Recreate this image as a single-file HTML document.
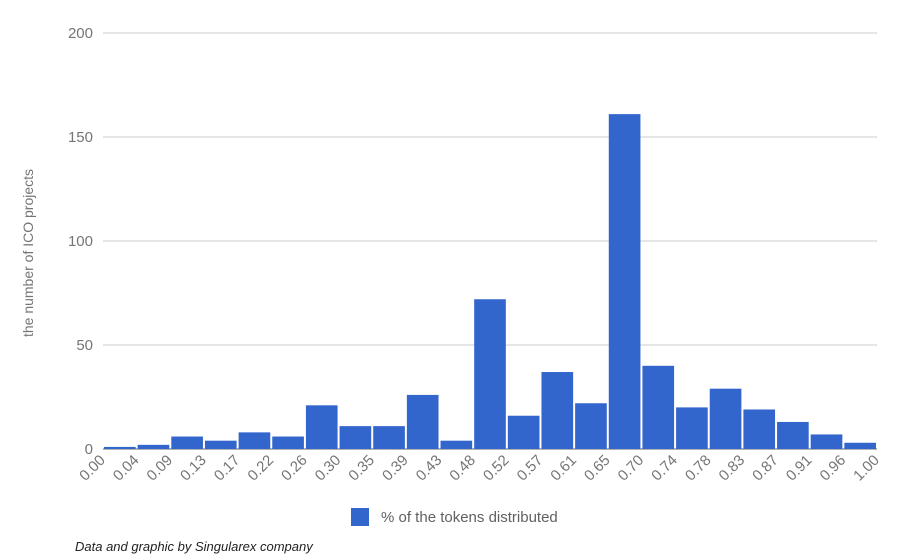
<!DOCTYPE html>
<html><head><meta charset="utf-8"><style>
html,body{margin:0;padding:0;background:#fff;width:900px;height:559px;overflow:hidden}
svg{font-family:"Liberation Sans",sans-serif}
</style></head><body>
<svg id="chart" width="900" height="559">
<g id="grid"></g><g id="bars"></g><g id="xlabels"></g>
<text transform="translate(33,253) rotate(-90)" text-anchor="middle" font-size="14" fill="#757575">the number of ICO projects</text>
<rect x="351" y="508" width="18" height="18" fill="#3366cc"/>
<text x="381" y="522" font-size="15" fill="#616161">% of the tokens distributed</text>
<text x="75" y="551" font-size="13" font-style="italic" fill="#222">Data and graphic by Singularex company</text>
</svg>
<script>
const values=[1,2,6,4,8,6,21,11,11,26,4,72,16,37,22,161,40,20,29,19,13,7,3];
const xTicks=["0.00","0.04","0.09","0.13","0.17","0.22","0.26","0.30","0.35","0.39","0.43","0.48","0.52","0.57","0.61","0.65","0.70","0.74","0.78","0.83","0.87","0.91","0.96","1.00"];
const yTicks=[0,50,100,150,200];
const NS="http://www.w3.org/2000/svg";
const x0=103,x1=877,y0=449,y1=33,yMax=200;
const slot=(x1-x0)/values.length;
const xs=i=>x0+i*slot;
const ys=v=>y0-(v/yMax)*(y0-y1);
function mk(t,a,p){const e=document.createElementNS(NS,t);for(const k in a)e.setAttribute(k,a[k]);p.appendChild(e);return e;}
const grid=document.getElementById('grid');
yTicks.forEach(v=>{
 const l=mk('line',{x1:x0,x2:x1,y1:ys(v),y2:ys(v),stroke:v===0?'#666':'#ccc','stroke-width':1},grid);
 
 
 const t=mk('text',{x:93,y:ys(v)+5,'text-anchor':'end','font-size':15,fill:'#757575'},grid);
 t.textContent=v;
 
 
});
const bars=document.getElementById('bars');
values.forEach((v,i)=>{
 const r=mk('rect',{x:xs(i)+1,y:ys(v),width:slot-2,height:y0-ys(v),fill:'#3366cc'},bars);
 
 
});
const xl=document.getElementById('xlabels');
xTicks.forEach((s,i)=>{
 const x=xs(i)+3,y=y0+12;
 const t=mk('text',{x:x,y:y,'text-anchor':'end','font-size':15,fill:'#757575',transform:`rotate(-45 ${x} ${y})`},xl);
 t.textContent=s;
 
 
});
</script>
</body></html>
